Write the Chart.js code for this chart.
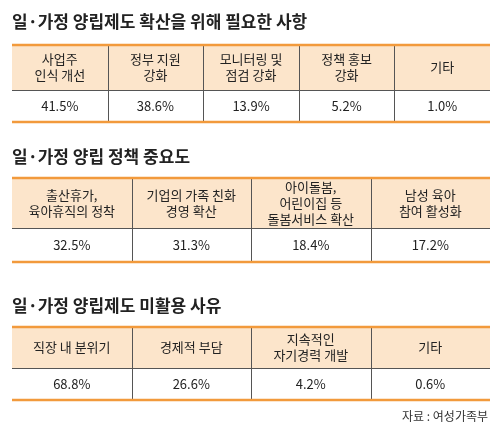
<!DOCTYPE html>
<html><head><meta charset="utf-8">
<script src="https://cdn.jsdelivr.net/npm/chart.js@4"></script>
<style>html,body{margin:0;padding:0;background:#fff}#w{width:500px;height:432px}</style>
</head><body><div id="w"><canvas id="c"></canvas></div>
<script>
const title1 = "일·가정 양립제도 확산을 위해 필요한 사항";
const cats1 = [["사업주","인식 개선"],["정부 지원","강화"],["모니터링 및","점검 강화"],["정책 홍보","강화"],["기타"]];
const vals1 = [41.5, 38.6, 13.9, 5.2, 1.0];
const title2 = "일·가정 양립 정책 중요도";
const cats2 = [["출산휴가,","육아휴직의 정착"],["기업의 가족 친화","경영 확산"],["아이돌봄,","어린이집 등","돌봄서비스 확산"],["남성 육아","참여 활성화"]];
const vals2 = [32.5, 31.3, 18.4, 17.2];
const title3 = "일·가정 양립제도 미활용 사유";
const cats3 = [["직장 내 분위기"],["경제적 부담"],["지속적인","자기경력 개발"],["기타"]];
const vals3 = [68.8, 26.6, 4.2, 0.6];
const source = "자료 : 여성가족부";

const tables = [
  {title:title1, cats:cats1, vals:vals1, ty:22, top:45, mid:90, bot:122},
  {title:title2, cats:cats2, vals:vals2, ty:157, top:178, mid:228, bot:262},
  {title:title3, cats:cats3, vals:vals3, ty:306, top:327, mid:368, bot:400}
];
const F = '"Noto Sans CJK KR", sans-serif';
const tablePlugin = {
  id:'tables',
  afterDraw(chart){
    const ctx = chart.ctx;
    const L = 12, R = 490;
    ctx.save();
    tables.forEach(t=>{
      ctx.fillStyle = '#222';
      ctx.font = 'bold 17px ' + F;
      ctx.textAlign = 'left'; ctx.textBaseline = 'middle';
      ctx.fillText(t.title, 12, t.ty);
      ctx.fillStyle = '#fce5cb';
      ctx.fillRect(L, t.top, R-L, t.mid-t.top);
      const n = t.cats.length, w = (R-L)/n;
      ctx.strokeStyle = '#555'; ctx.lineWidth = 1;
      ctx.beginPath(); ctx.moveTo(L, t.mid+0.5); ctx.lineTo(R, t.mid+0.5); ctx.stroke();
      for(let i=1;i<n;i++){
        const x = Math.round(L+w*i)+0.5;
        ctx.beginPath(); ctx.moveTo(x, t.top); ctx.lineTo(x, t.bot); ctx.stroke();
      }
      ctx.strokeStyle = '#f29a3c'; ctx.lineWidth = 2.5;
      [t.top, t.bot].forEach(y=>{ctx.beginPath(); ctx.moveTo(L,y); ctx.lineTo(R,y); ctx.stroke();});
      ctx.textAlign = 'center';
      ctx.fillStyle = '#222';
      for(let i=0;i<n;i++){
        const cx = L+w*i+w/2;
        const lines = t.cats[i];
        const lh = 16, cy = (t.top+t.mid)/2;
        ctx.font = '13px ' + F;
        lines.forEach((s,j)=>ctx.fillText(s, cx, cy + (j-(lines.length-1)/2)*lh));
        ctx.font = '13px ' + F;
        ctx.fillText(t.vals[i].toFixed(1)+'%', cx, (t.mid+t.bot)/2);
      }
    });
    ctx.font = '12px ' + F; ctx.textAlign='right'; ctx.fillStyle='#333';
    ctx.fillText(source, 488, 416);
    ctx.restore();
  }
};
new Chart(document.getElementById('c'), {
  type:'bar',
  data:{labels:cats1.map(c=>c.join(' ')), datasets:[{data:vals1, backgroundColor:'rgba(0,0,0,0)'}]},
  options:{responsive:true, maintainAspectRatio:false, animation:false,
    plugins:{legend:{display:false}, tooltip:{enabled:false}},
    scales:{x:{display:false}, y:{display:false}}},
  plugins:[tablePlugin]
});
</script></body></html>
